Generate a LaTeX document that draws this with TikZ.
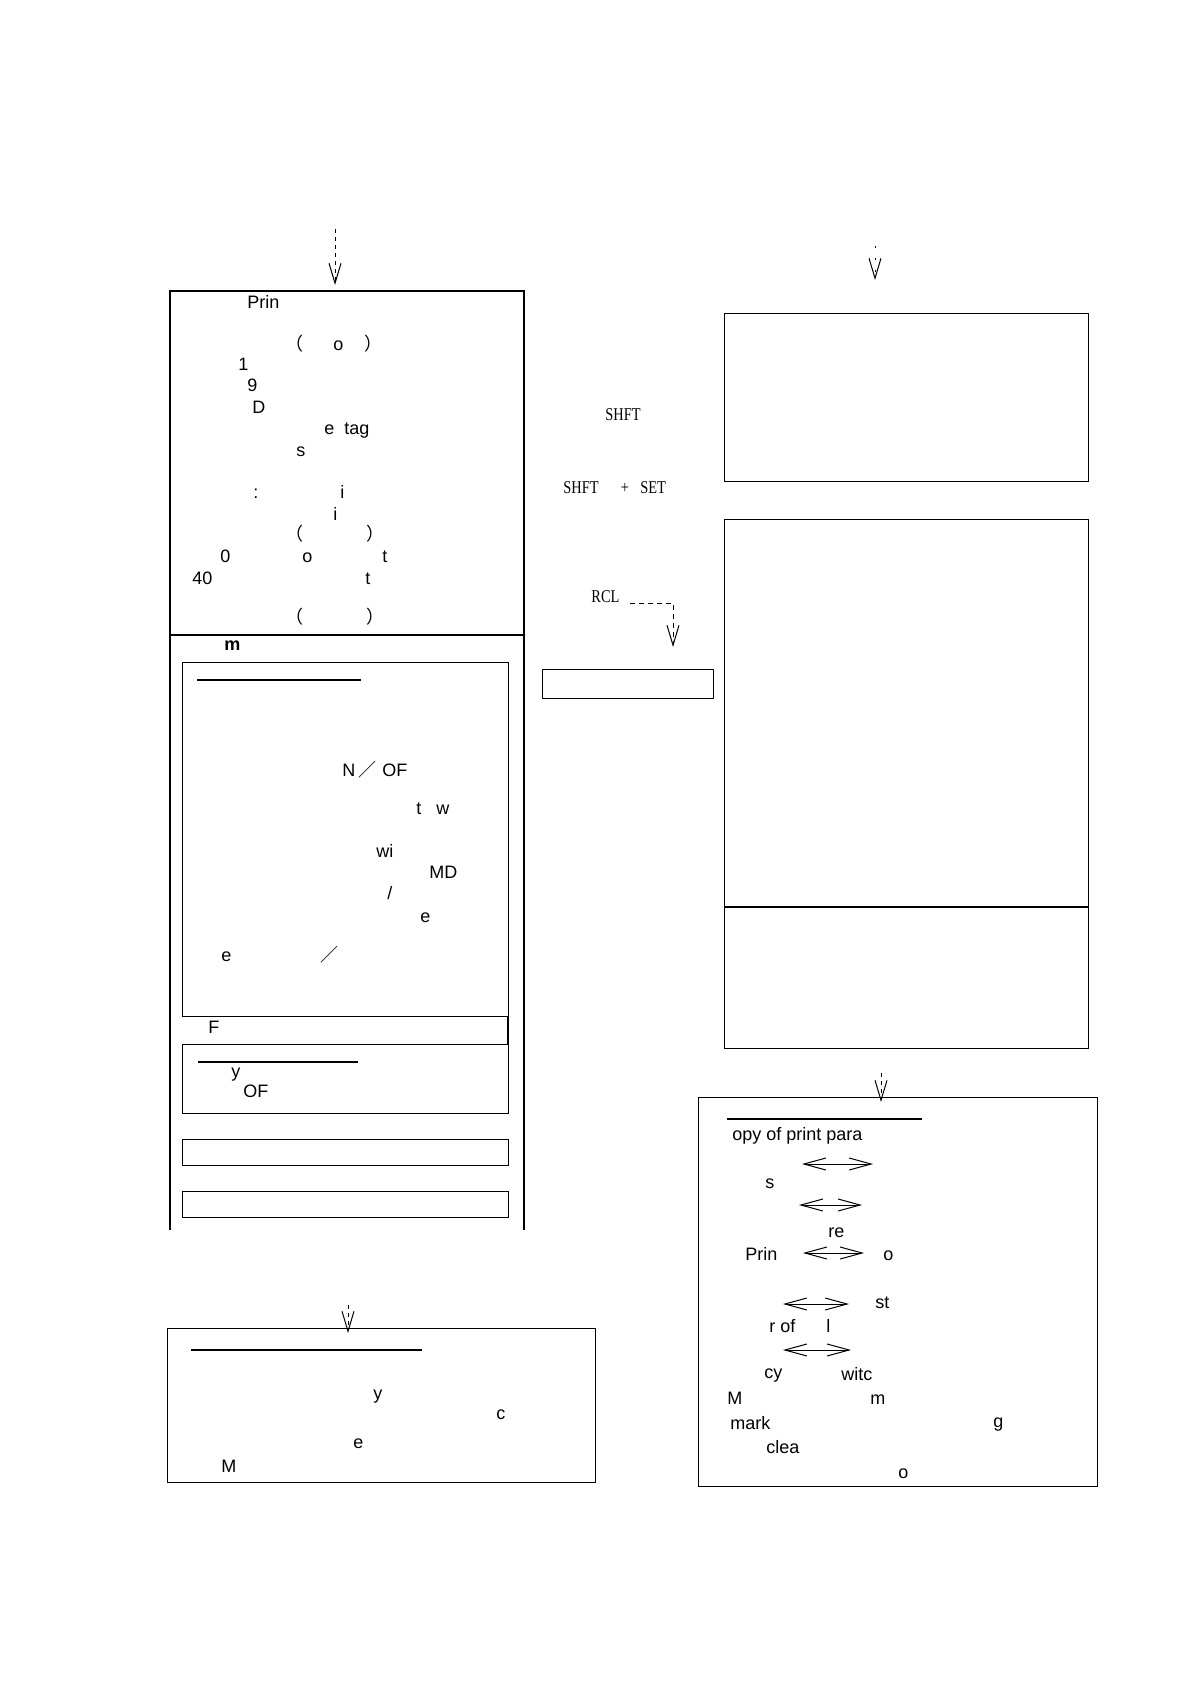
\documentclass[tikz,border=0pt]{standalone}
\usepackage{fontspec}
\setmainfont{Liberation Sans}
\newfontfamily\cjk{Noto Sans CJK SC}
\newfontfamily\nserif[FakeStretch=0.8]{Liberation Serif}
\usetikzlibrary{arrows.meta}
\begin{document}
\begin{tikzpicture}[x=0.5pt,y=-0.5pt,
  txt/.style={inner sep=0pt, anchor=mid west, font=\fontsize{9}{11}\selectfont},
  btxt/.style={txt, font=\fontsize{9}{11}\selectfont\bfseries},
  ctxt/.style={txt, anchor=mid},
  cj/.style={inner sep=0pt, anchor=mid, font=\fontsize{9}{11}\selectfont\cjk},
  ser/.style={txt, font=\fontsize{9}{11}\selectfont\nserif},
  boxn/.style={draw, line width=0.65pt, inner sep=0pt, anchor=north west},
  uline/.style={line width=1.2pt},
  frame/.style={line width=0.65pt},
  flow/.style={line width=0.5pt, dash pattern=on 2pt off 2pt, -{Straight Barb[length=10pt,width=6pt]}},
  dbl/.style={line width=0.5pt, {Straight Barb[length=11pt,width=6pt]}-{Straight Barb[length=11pt,width=6pt]}}]
\useasboundingbox (0,0) rectangle (1190,1684);

% ---------- left outer frame ----------
\coordinate (lo1) at (170,1230);
\coordinate (lo2) at (170,291);
\coordinate (lo3) at (524,291);
\coordinate (lo4) at (524,1230);
\coordinate (ld1) at (170,635);
\coordinate (ld2) at (524,635);
\draw[frame] (lo1) -- (lo2) -- (lo3) -- (lo4);
\draw[frame] (ld1) -- (ld2);

% arrow into left frame
\coordinate (la0) at (335,229);
\coordinate (la1) at (335,285);
\draw[flow] (la0) -- (la1);

% texts upper left
\node[txt] (t1) at (247,303) {Prin};
\node[cj] (t2) at (294,345) {（};
\node[txt] (t3) at (333,345) {o};
\node[cj] (t4) at (373,345) {）};
\node[txt] (t5) at (238,365) {1};
\node[txt] (t6) at (247,386) {9};
\node[txt] (t7) at (252,408) {D};
\node[txt] (t8) at (324,429) {e};
\node[txt] (t9) at (344,429) {tag};
\node[txt] (t10) at (296,451) {s};
\node[txt] (t11) at (253,493) {:};
\node[txt] (t12) at (340,493) {i};
\node[txt] (t13) at (333,515) {i};
\node[cj] (t14) at (294,535) {（};
\node[cj] (t15) at (375,535) {）};
\node[txt] (t16) at (220,557) {0};
\node[txt] (t17) at (302,557) {o};
\node[txt] (t18) at (382,557) {t};
\node[txt] (t19) at (192,579) {40};
\node[txt] (t20) at (365,579) {t};
\node[cj] (t21) at (294,618) {（};
\node[cj] (t22) at (375,618) {）};
\node[btxt] (t23) at (224,645) {m};

% inner box 1
\node[boxn, minimum width=163pt, minimum height=177pt] (lb1) at (182,662) {};
\coordinate (lb1r1) at (508,1016);
\coordinate (lb1r2) at (508,1044);
\draw[frame] (lb1r1) -- (lb1r2);
\coordinate (u1a) at (197,680);
\coordinate (u1b) at (361,680);
\draw[uline] (u1a) -- (u1b);
\node[txt] (t24) at (342,771) {N};
\node[cj] (t25) at (367,771) {／};
\node[txt] (t26) at (382,771) {OF};
\node[txt] (t27) at (416,809) {t};
\node[txt] (t28) at (436,809) {w};
\node[txt] (t29) at (376,852) {wi};
\node[txt] (t30) at (429,873) {MD};
\node[txt] (t31) at (387,894) {/};
\node[txt] (t32) at (420,917) {e};
\node[txt] (t33) at (221,956) {e};
\node[cj] (t34) at (329,956) {／};
\node[txt] (t35) at (208,1028) {F};

% inner box 2
\node[boxn, minimum width=163pt, minimum height=34.5pt] (lb2) at (182,1044) {};
\coordinate (u2a) at (198,1062);
\coordinate (u2b) at (358,1062);
\draw[uline] (u2a) -- (u2b);
\node[txt] (t36) at (231,1072) {y};
\node[txt] (t37) at (243,1092) {OF};

% boxes 3, 4
\node[boxn, minimum width=163pt, minimum height=13pt] (lb3) at (182,1139) {};
\node[boxn, minimum width=163pt, minimum height=13pt] (lb4) at (182,1191) {};

% ---------- middle column ----------
\node[ser] (s1) at (605,415) {SHFT};
\node[ser] (s2) at (563,488) {SHFT};
\node[ser, anchor=mid] (s3) at (625,488) {+};
\node[ser] (s4) at (640,488) {SET};
\node[ser] (s5) at (591,597) {RCL};
\coordinate (ra0) at (630,603);
\coordinate (ra1) at (673,647);
\draw[flow, dash pattern=on 2.5pt off 2pt] (ra0) -| (ra1);
\node[boxn, minimum width=85.5pt, minimum height=14.5pt] (mb) at (542,669) {};

% ---------- right column ----------
\coordinate (rta0) at (875,246);
\coordinate (rta1) at (875,280);
\draw[flow, dash pattern=on 1pt off 5pt] (rta0) -- (rta1);
\node[boxn, minimum width=182pt, minimum height=84pt] (rb1) at (724,313) {};
\node[boxn, minimum width=182pt, minimum height=264.5pt] (rb2) at (724,519) {};
\coordinate (rd1) at (724,907);
\coordinate (rd2) at (1088,907);
\draw[frame] (rd1) -- (rd2);

% arrow into bottom right box
\coordinate (rba0) at (881,1073);
\coordinate (rba1) at (881,1102);
\draw[flow] (rba0) -- (rba1);
\node[boxn, minimum width=199.5pt, minimum height=194.5pt] (rb3) at (698,1097) {};
\coordinate (u3a) at (727,1119);
\coordinate (u3b) at (922,1119);
\draw[uline] (u3a) -- (u3b);
\node[txt] (r1) at (732,1135) {opy of print para};
\coordinate (d1a) at (802,1164); \coordinate (d1b) at (873,1164);
\draw[dbl] (d1a) -- (d1b);
\node[txt] (r2) at (765,1183) {s};
\coordinate (d2a) at (799,1205); \coordinate (d2b) at (862,1205);
\draw[dbl] (d2a) -- (d2b);
\node[txt] (r3) at (828,1232) {re};
\node[txt] (r4) at (745,1255) {Prin};
\coordinate (d3a) at (803,1253); \coordinate (d3b) at (864,1253);
\draw[dbl] (d3a) -- (d3b);
\node[txt] (r5) at (883,1255) {o};
\coordinate (d4a) at (783,1304); \coordinate (d4b) at (849,1304);
\draw[dbl] (d4a) -- (d4b);
\node[txt] (r6) at (875,1303) {st};
\node[txt] (r7) at (769,1327) {r of};
\node[txt] (r8) at (826,1327) {l};
\coordinate (d5a) at (783,1350); \coordinate (d5b) at (851,1350);
\draw[dbl] (d5a) -- (d5b);
\node[txt] (r9) at (764,1373) {cy};
\node[txt] (r10) at (841,1375) {witc};
\node[txt] (r11) at (727,1399) {M};
\node[txt] (r12) at (870,1399) {m};
\node[txt] (r13) at (730,1424) {mark};
\node[txt] (r14) at (993,1422) {g};
\node[txt] (r15) at (766,1448) {clea};
\node[txt] (r16) at (898,1473) {o};

% ---------- bottom left box ----------
\coordinate (lba0) at (348,1305);
\coordinate (lba1) at (348,1333);
\draw[flow] (lba0) -- (lba1);
\node[boxn, minimum width=214pt, minimum height=77pt] (lb5) at (167,1328) {};
\coordinate (u4a) at (191,1350);
\coordinate (u4b) at (422,1350);
\draw[uline] (u4a) -- (u4b);
\node[txt] (b1) at (373,1394) {y};
\node[txt] (b2) at (496,1414) {c};
\node[txt] (b3) at (353,1443) {e};
\node[txt] (b4) at (221,1467) {M};
\end{tikzpicture}
\end{document}
